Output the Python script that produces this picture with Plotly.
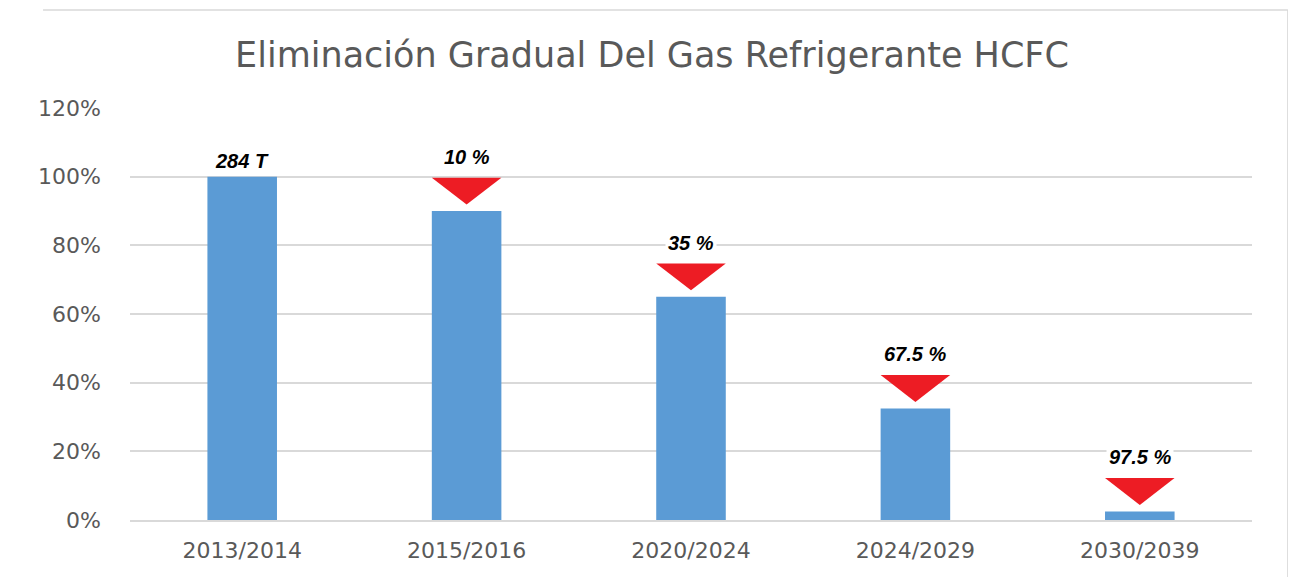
import plotly.graph_objects as go

CATEGORIES = ["2013/2014", "2015/2016", "2020/2024", "2024/2029", "2030/2039"]
REMAINING = [1.0, 0.90, 0.65, 0.325, 0.025]        # share still allowed
LABELS = ["284 T", "10 %", "35 %", "67.5 %", "97.5 %"]
HAS_ARROW = [False, True, True, True, True]
TITLE = "Eliminación Gradual Del Gas Refrigerante HCFC"

BAR_W = 0.31
TRI_GAP = 0.019      # gap between bar top and triangle apex
TRI_H = 0.078        # triangle height (data units)

x = list(range(len(CATEGORIES)))

fig = go.Figure()
fig.add_trace(go.Bar(x=x, y=REMAINING, width=BAR_W, marker_color="#5b9bd5",
                     marker_line_width=0, hoverinfo="skip"))

# flechas rojas hacia abajo sobre cada barra
for i, v in enumerate(REMAINING):
    if not HAS_ARROW[i]:
        continue
    apex = v + TRI_GAP
    top = apex + TRI_H
    fig.add_trace(go.Scatter(
        x=[i - BAR_W / 2, i + BAR_W / 2, i, i - BAR_W / 2],
        y=[top, top, apex, top], mode="lines", fill="toself",
        fillcolor="#ed1c24", line=dict(color="#ed1c24", width=0),
        hoverinfo="skip"))

# etiquetas
for i, (v, lab) in enumerate(zip(REMAINING, LABELS)):
    base = v + TRI_GAP + TRI_H if HAS_ARROW[i] else v
    fig.add_annotation(x=i, y=base, text=f"<b><i>{lab}</i></b>", showarrow=False,
                       yanchor="bottom", yshift=7 if HAS_ARROW[i] else 2,
                       bgcolor="white", borderpad=2,
                       font=dict(family="Liberation Sans, Arial", size=20, color="black"))

# marco del gráfico
fig.add_shape(type="line", xref="paper", yref="paper", x0=-0.0775, x1=1.032,
              y0=1.238, y1=1.238, line=dict(color="#d9d9d9", width=1.5))
fig.add_shape(type="line", xref="paper", yref="paper", x0=1.032, x1=1.032,
              y0=1.238, y1=-0.2, line=dict(color="#d9d9d9", width=1.5))

# la página tiene un margen de 8 px, de ahí 1288x569
fig.update_layout(
    width=1288, height=569, showlegend=False,
    paper_bgcolor="white", plot_bgcolor="white",
    margin=dict(l=122, r=44, t=100, b=57),
    title=dict(text=TITLE, x=0.5, xref="container", xanchor="center", y=0.918, yanchor="middle",
               font=dict(family="DejaVu Sans", size=35, color="#595959")),
)
fig.update_xaxes(range=[-0.5, len(CATEGORIES) - 0.5], tickvals=x, ticktext=CATEGORIES,
                 showgrid=False, zeroline=False, showline=True, linecolor="#d9d9d9",
                 linewidth=1.5, ticks="", ticklabelstandoff=10,
                 tickfont=dict(family="DejaVu Sans", size=22, color="#595959"))
fig.update_yaxes(range=[0, 1.2], dtick=0.2, tickformat=".0%", showgrid=True,
                 gridcolor="#d9d9d9", gridwidth=1.5, zeroline=False, showline=False,
                 ticks="", ticklabelstandoff=28,
                 tickfont=dict(family="DejaVu Sans", size=22, color="#595959"))

fig.write_html("out.html")
